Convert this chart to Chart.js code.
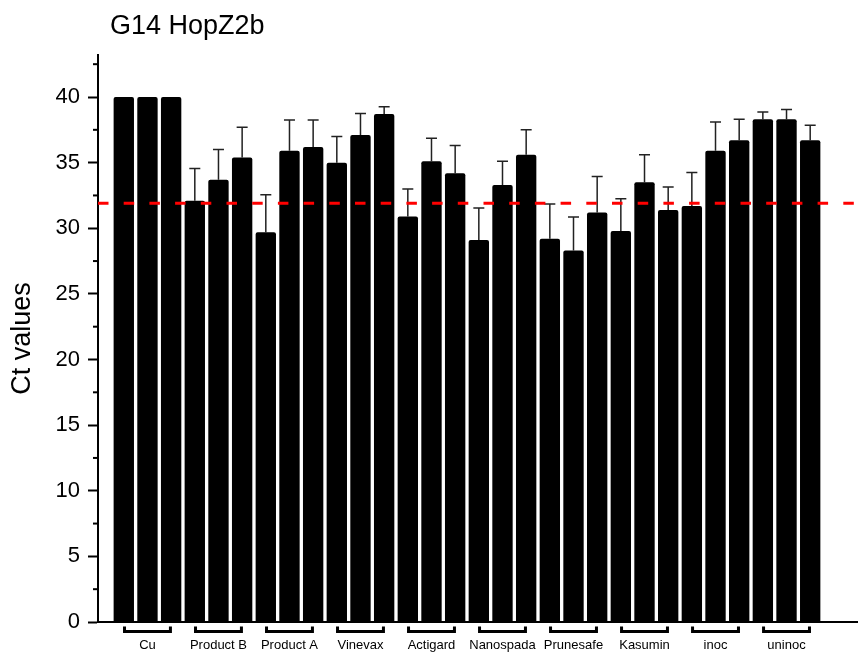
<!DOCTYPE html>
<html>
<head>
<meta charset="utf-8">
<title>G14 HopZ2b</title>
<script src="https://cdn.jsdelivr.net/npm/chart.js@4.4.1/dist/chart.umd.min.js"></script>
<style>
    html, body { margin: 0; padding: 0; background: #fff; }
    canvas { display: block; }
</style>
</head>
<body>
<canvas id="ct-chart" width="858" height="657"></canvas>
<script>
// Treatment groups, three replicate bars each
const groups = ['Cu', 'Product B', 'Product A', 'Vinevax', 'Actigard',
    'Nanospada', 'Prunesafe', 'Kasumin', 'inoc', 'uninoc'];

// Mean Ct value per bar (3 per group)
const ctMeans = [
    40.0, 40.0, 40.0,
    32.1, 33.7, 35.4,
    29.7, 35.9, 36.2,
    35.0, 37.1, 38.7,
    30.9, 35.1, 34.2,
    29.1, 33.3, 35.6,
    29.2, 28.3, 31.2,
    29.8, 33.5, 31.4,
    31.7, 35.9, 36.7,
    38.3, 38.3, 36.7
];

// Upper error (SD) per bar
const ctErrors = [
    0, 0, 0,
    2.45, 2.3, 2.3,
    2.85, 2.35, 2.05,
    2.0, 1.65, 0.55,
    2.1, 1.75, 2.1,
    2.45, 1.8, 1.9,
    2.65, 2.55, 2.75,
    2.45, 2.1, 1.75,
    2.55, 2.2, 1.6,
    0.55, 0.75, 1.15
];

// Detection cut-off line
const cutoff = 31.9;

const yTicks = [0, 5, 10, 15, 20, 25, 30, 35, 40];
const yMinorTicks = [2.5, 7.5, 12.5, 17.5, 22.5, 27.5, 32.5, 37.5, 42.5];

const FONT = "'Liberation Sans', Arial, Helvetica, sans-serif";
const X_MIN = -1.09, X_MAX = 31.02;

const barData = ctMeans.map((v, i) => ({ x: i, y: v }));
const groupCenters = groups.map((g, i) => i * 3 + 1);

// Error bars, minor ticks, group brackets and the title
const extrasPlugin = {
    id: 'extras',
    beforeDatasetsDraw(chart) {
        const { ctx, scales: { x, y } } = chart;
        ctx.save();
        ctx.strokeStyle = '#222';
        ctx.lineWidth = 1.5;
        ctMeans.forEach((m, i) => {
            if (!ctErrors[i]) return;
            const px = x.getPixelForValue(i);
            const top = y.getPixelForValue(m + ctErrors[i]);
            ctx.beginPath();
            ctx.moveTo(px, y.getPixelForValue(m));
            ctx.lineTo(px, top);
            ctx.moveTo(px - 5.5, top);
            ctx.lineTo(px + 5.5, top);
            ctx.stroke();
        });
        ctx.restore();
    },
    afterDraw(chart) {
        const { ctx, chartArea, scales: { x, y } } = chart;
        ctx.save();

        // minor y ticks
        ctx.strokeStyle = '#000';
        ctx.lineWidth = 2;
        yMinorTicks.forEach(v => {
            const py = y.getPixelForValue(v);
            ctx.beginPath();
            ctx.moveTo(chartArea.left - 5, py);
            ctx.lineTo(chartArea.left, py);
            ctx.stroke();
        });

        // brackets under each group
        ctx.lineWidth = 3;
        const by = chartArea.bottom + 9.5;
        groupCenters.forEach(c => {
            const l = x.getPixelForValue(c - 0.97);
            const r = x.getPixelForValue(c + 0.97);
            ctx.beginPath();
            ctx.moveTo(l, by - 5);
            ctx.lineTo(l, by);
            ctx.lineTo(r, by);
            ctx.lineTo(r, by - 5);
            ctx.stroke();
        });

        // title
        ctx.fillStyle = '#000';
        ctx.font = `27px ${FONT}`;
        ctx.textBaseline = 'alphabetic';
        ctx.fillText('G14 HopZ2b', 110, 34);
        ctx.restore();
    }
};

new Chart(document.getElementById('ct-chart'), {
    type: 'bar',
    data: {
        datasets: [
            {
                type: 'line',
                data: [{ x: X_MIN, y: cutoff }, { x: X_MAX, y: cutoff }],
                borderColor: '#ff0000',
                borderWidth: 3,
                borderDash: [10.5, 15.2],
                pointRadius: 0,
                fill: false,
                order: 0
            },
            {
                data: barData,
                backgroundColor: '#000',
                borderRadius: 2,
                barPercentage: 0.86,
                categoryPercentage: 1,
                order: 1
            }
        ]
    },
    options: {
        responsive: false,
        animation: false,
        layout: { padding: { top: 55, right: 0, left: 0, bottom: 0 } },
        plugins: {
            legend: { display: false },
            tooltip: { enabled: false }
        },
        scales: {
            x: {
                type: 'linear',
                offset: false,
                min: X_MIN,
                max: X_MAX,
                grid: { display: false, drawTicks: false, offset: false },
                border: { display: true, color: '#000', width: 2 },
                afterBuildTicks: scale => {
                    scale.ticks = groupCenters.map(v => ({ value: v }));
                },
                afterFit: scale => { scale.height = 35; },
                ticks: {
                    padding: 16,
                    color: '#000',
                    maxRotation: 0,
                    autoSkip: false,
                    font: { family: FONT, size: 13 },
                    callback: (v, i) => groups[i]
                }
            },
            y: {
                min: 0,
                max: 43.2,
                grid: {
                    drawOnChartArea: false,
                    drawTicks: true,
                    tickLength: 10,
                    tickWidth: 2,
                    tickColor: '#000'
                },
                border: { display: true, color: '#000', width: 2 },
                afterBuildTicks: scale => {
                    scale.ticks = yTicks.map(v => ({ value: v }));
                },
                afterFit: scale => { scale.width = 98; },
                ticks: {
                    padding: 8,
                    color: '#000',
                    font: { family: FONT, size: 22 }
                },
                title: {
                    display: true,
                    text: 'Ct values',
                    color: '#000',
                    font: { family: FONT, size: 27 },
                    padding: { top: 6, bottom: 0 }
                }
            }
        }
    },
    plugins: [extrasPlugin]
});
</script>
</body>
</html>
